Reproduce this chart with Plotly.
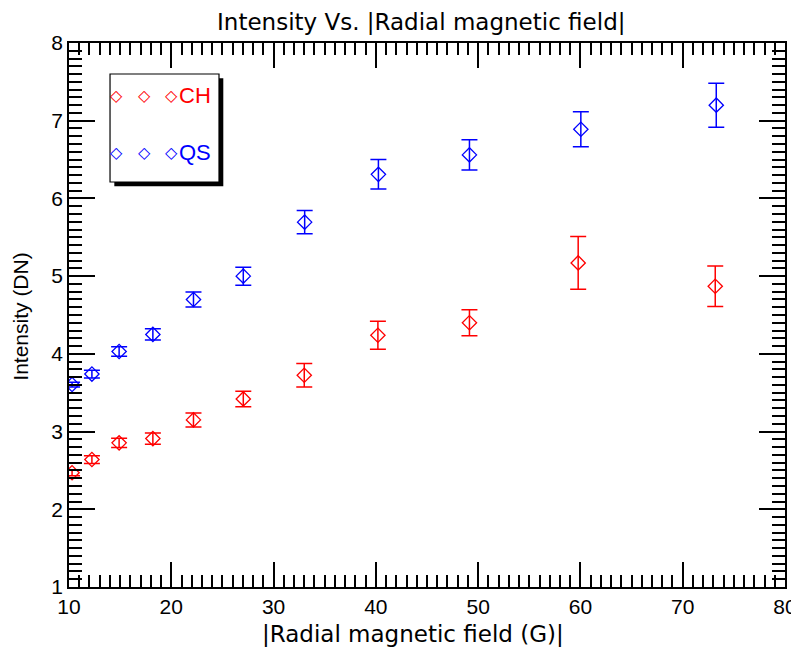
import plotly.graph_objects as go

# Data
field_ch = [10.3, 12.24, 14.9, 18.2, 22.17, 27.04, 33.0, 40.2, 49.15, 59.78, 73.18]
int_ch = [2.47, 2.64, 2.855, 2.91, 3.15, 3.42, 3.725, 4.24, 4.40, 5.17, 4.87]
err_ch = [0.04, 0.05, 0.06, 0.073, 0.09, 0.10, 0.15, 0.18, 0.167, 0.34, 0.26]

field_qs = [10.3, 12.24, 14.9, 18.2, 22.17, 27.04, 33.04, 40.25, 49.15, 60.04, 73.28]
int_qs = [3.605, 3.74, 4.03, 4.25, 4.70, 5.00, 5.695, 6.31, 6.56, 6.89, 7.20]
err_qs = [0.03, 0.05, 0.06, 0.073, 0.096, 0.116, 0.15, 0.19, 0.195, 0.225, 0.283]

labels = ["CH", "QS"]
RED = "#ff0000"
BLUE = "#0000ff"

fig = go.Figure()
for xs, ys, es, col, name in [(field_ch, int_ch, err_ch, RED, labels[0]),
                              (field_qs, int_qs, err_qs, BLUE, labels[1])]:
    fig.add_trace(go.Scatter(
        x=xs, y=ys, mode="markers", name=name, showlegend=False,
        marker=dict(symbol="diamond-open", size=11, color=col, line=dict(width=1.3, color=col)),
        error_y=dict(type="data", array=es, visible=True, color=col, thickness=1.5, width=8),
        cliponaxis=True,
    ))

axis_common = dict(
    showline=True, linecolor="black", linewidth=1.5, mirror="allticks",
    ticks="inside", tickcolor="black", tickwidth=1.5, showgrid=False, zeroline=False,
    automargin=False,
    tickfont=dict(family="Liberation Sans, Arial", size=21, color="black"),
)

fig.update_xaxes(range=[10, 80], dtick=10, tick0=0, ticklen=25,
                 minor=dict(dtick=1, ticklen=12, ticks="inside", tickcolor="black", tickwidth=1.5, showgrid=False),
                 **axis_common)
fig.update_yaxes(range=[1, 8], dtick=1, tick0=0, ticklen=26,
                 minor=dict(dtick=0.1, ticklen=13, ticks="inside", tickcolor="black", tickwidth=1.5, showgrid=False),
                 **axis_common)

# Axis titles
fig.add_annotation(x=0.48, y=-0.0864, xref="paper", yref="paper", text="|Radial magnetic field (G)|",
                   showarrow=False, xanchor="center", yanchor="middle",
                   font=dict(family="DejaVu Sans", size=23, color="black"))
fig.add_annotation(x=-0.067, y=0.497, xref="paper", yref="paper", text="Intensity (DN)", textangle=-90,
                   showarrow=False, xanchor="center", yanchor="middle",
                   font=dict(family="Liberation Sans, Arial", size=21, color="black"))

# Legend box (drawn as shapes + text)
x0, x1, y0, y1 = 0.0573, 0.2095, 0.7445, 0.943
fig.add_shape(type="rect", xref="paper", yref="paper", x0=x0 + 0.006, x1=x1 + 0.006, y0=y0 - 0.008, y1=y1 - 0.008,
              fillcolor="black", line=dict(width=0), layer="above")
fig.add_shape(type="rect", xref="paper", yref="paper", x0=x0, x1=x1, y0=y0, y1=y1,
              fillcolor="white", line=dict(color="black", width=1.2), layer="above")
for lab, col, yy in [(labels[0], RED, 0.904), (labels[1], BLUE, 0.798)]:
    for xx in [0.067, 0.1053, 0.1435]:
        fig.add_annotation(x=xx, y=yy, xref="paper", yref="paper", text="◇", showarrow=False,
                           font=dict(family="DejaVu Sans", size=16, color=col), xanchor="center", yanchor="middle")
    fig.add_annotation(x=0.151, y=yy, xref="paper", yref="paper", text=lab, showarrow=False,
                       font=dict(family="Liberation Sans, Arial", size=22, color=col), xanchor="left", yanchor="middle")

# The page body has an 8px margin, so the figure is sized and offset to compensate.
fig.update_layout(
    width=791, height=645,
    margin=dict(l=61, r=14, t=35, b=66, autoexpand=False),
    paper_bgcolor="white", plot_bgcolor="white",
    title=dict(text="Intensity Vs. |Radial magnetic field|", x=0.492, xref="paper", xanchor="center",
               y=1 - 14 / 645, yref="container", yanchor="middle",
               font=dict(family="DejaVu Sans", size=23, color="black")),
    showlegend=False,
)

fig.write_html("out.html")
